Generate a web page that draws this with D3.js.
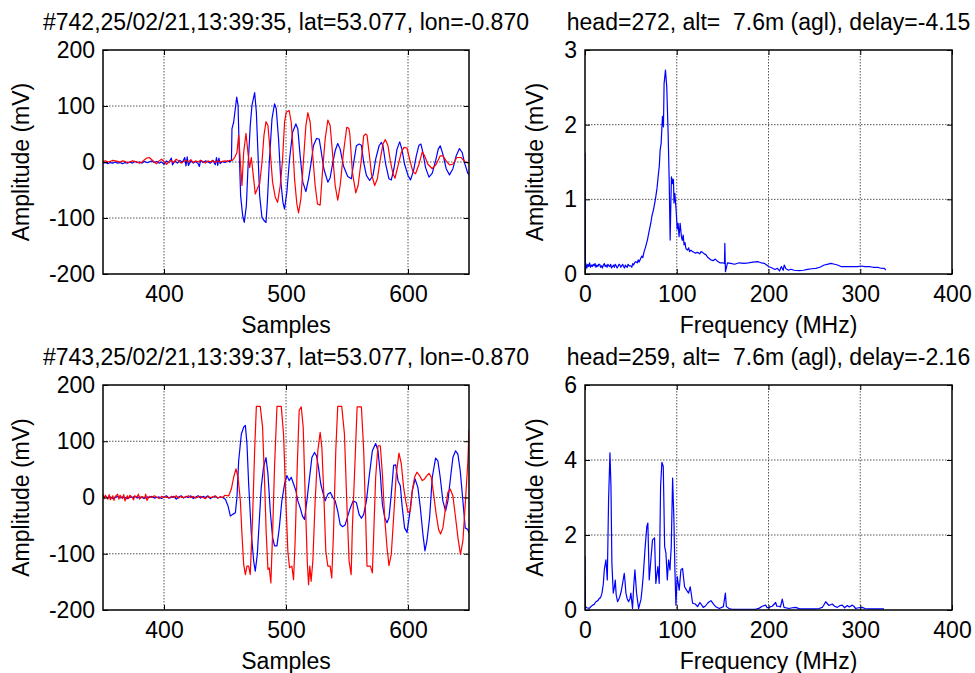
<!DOCTYPE html>
<html>
<head>
<meta charset="utf-8">
<script src="https://cdn.jsdelivr.net/npm/d3@7"></script>
<style>
  body { margin: 0; background: #ffffff; }
  svg text { font-family: "Liberation Sans", Arial, sans-serif; fill: #000; white-space: pre; }
</style>
</head>
<body>
<div id="chart"></div>
<script>
// ---- data ----
// pulse #742 : [sample, mV]
var wave742Blue = [[350,-2],[352,-1],[354,-3],[356,-1],[358,-2],[360,0],[362,-2],[364,-1],[366,-3],[368,-1],[370,-2],[372,0],[374,-2],[376,1],[378,-1],[380,0],[382,-2],[384,1],[386,-1],[388,0],[390,2],[392,-1],[394,1],[396,-2],[398,0],[400,-4],[402,2],[404,-1],[406,7],[407,-5],[409,2],[411,-2],[413,3],[415,-1],[417,8],[418,-7],[419,9],[420,-6],[422,2],[424,-2],[426,1],[428,-3],[429,-8],[430,3],[432,-1],[434,2],[436,0],[438,-2],[440,3],[442,-5],[443,8],[444,-6],[445,7],[446,-3],[448,1],[450,-1],[452,2],[454,0],[455.3,3],[455.7,59],[457.1,71],[459.6,116],[460.7,101],[461.7,17],[462.8,-60],[464.5,-96],[465.8,-108],[467.5,-78],[468.8,-12],[470.7,65],[472.1,101],[474.3,124],[475.7,89],[477,17],[478.4,-60],[480.3,-99],[482.2,-105],[483.6,-108],[484.7,-72],[486.3,-1],[488.5,77],[490.6,104],[492,95],[493.9,41],[495.8,-36],[497.5,-72],[498.8,-84],[500.7,-54],[502.9,5],[505.4,53],[508.1,68],[509.7,59],[511.6,11],[513.8,-36],[516.3,-53],[518.5,-30],[520.6,-1],[522.5,29],[525,42],[527.2,41],[528.8,20],[531,-12],[534.3,-36],[536.2,-28],[538.1,-4],[540.3,20],[542.4,33],[544.4,23],[547.1,-7],[550.6,-26],[553.6,-30],[555.5,-1],[557.7,29],[559.9,32],[561.8,30],[563.7,-1],[565.9,-24],[568.6,-33],[571.3,-24],[573.5,5],[576.3,29],[578.2,35],[579.5,29],[581.7,-4],[584.4,-30],[586.3,-32],[588.5,-12],[591,23],[593.2,36],[595,23],[597.2,-4],[600,-24],[602.1,-32],[604.6,-15],[606.8,11],[609,30],[610.6,32],[612.2,17],[614.4,-10],[617.2,-27],[619.9,-20],[622.6,2],[624.8,23],[626.4,29],[628.6,14],[631.3,-12],[634,-23],[636.8,-12],[639.5,11],[642.2,24],[644.4,17],[646.3,-1],[649,-20],[650,-22]];
var wave742Red = [[350,1],[352,2],[354,0],[356,1],[358,3],[360,2],[362,1],[364,0],[366,2],[368,1],[370,-1],[372,0],[374,2],[376,1],[378,0],[380,-2],[382,0],[384,4],[386,7],[388,8],[390,4],[392,0],[394,-3],[396,2],[398,5],[400,1],[402,-4],[404,0],[406,3],[408,-1],[410,5],[412,2],[414,-2],[416,1],[418,3],[420,0],[422,4],[424,-1],[426,2],[428,0],[430,3],[432,1],[434,-2],[436,2],[438,0],[440,3],[442,-1],[444,2],[446,0],[448,1],[450,2],[452,1],[454,3],[456,3],[457.9,8],[459.8,17],[461.2,48],[462.6,-1],[463.9,-42],[465.3,17],[467.2,51],[468.8,17],[470.2,-10],[471.6,8],[472.9,-18],[474.8,-57],[477,-45],[478.4,-39],[480.3,-1],[481.9,47],[483.6,72],[485.2,65],[487.1,17],[489,-36],[491.2,-63],[493.1,-72],[495.3,-42],[497.2,5],[498.8,71],[500.2,89],[502.6,92],[504.3,71],[505.6,29],[507,-30],[508.9,-75],[510.3,-91],[512.2,-66],[514.4,5],[516.3,65],[517.9,88],[519.8,71],[521.7,17],[523.9,-42],[525.8,-75],[528,-77],[529.9,-18],[532.1,41],[534.3,75],[536.2,65],[538.1,17],[540.3,-42],[542.4,-68],[544.4,-42],[547.1,17],[549.8,62],[551.5,60],[552.3,50],[554.4,-18],[557.2,-55],[559.1,-42],[561.8,5],[563.7,47],[565.3,50],[566.4,48],[568.1,17],[570,-21],[572.7,-42],[574.9,-30],[577.3,5],[579.5,32],[581.4,40],[583.6,29],[585.5,2],[587.7,-21],[589.3,-29],[591.8,-7],[594.5,17],[596.7,26],[599.2,25],[601.3,5],[604.1,-18],[606.2,-21],[609,-4],[611.7,18],[613.6,11],[616.3,-4],[619.9,-12],[623.1,-4],[626.4,11],[628.6,11],[631.3,2],[634,-5],[636.8,-4],[640,8],[643.6,8],[646.3,1],[649.3,-2],[650,-1]];

// pulse #743 : [sample, mV]
var wave743Blue = [[350,0],[352,2],[354,-1],[356,1],[358,-2],[360,0],[362,2],[364,-1],[366,1],[368,0],[370,-2],[372,1],[374,0],[376,2],[378,-1],[380,1],[382,0],[384,-2],[386,1],[388,0],[390,2],[392,-1],[394,0],[396,1],[398,-2],[400,1],[402,3],[404,-1],[406,0],[408,2],[410,-3],[412,1],[414,3],[416,-1],[418,2],[420,0],[422,3],[424,-2],[426,1],[428,3],[430,-1],[432,2],[434,0],[436,3],[438,-2],[440,1],[442,2],[444,-1],[446,1],[448,0],[450.3,-3],[452.5,-15],[454.4,-33],[456.3,-30],[458.5,-27],[459.8,0],[461.2,65],[463.4,113],[465.3,125],[466.7,128],[468,95],[469.4,24],[471.6,-65],[473.5,-113],[474.8,-131],[476.5,-101],[478.1,-42],[479.7,18],[481.6,54],[483.6,71],[485.2,42],[487.1,-24],[489,-71],[490.6,-86],[492.6,-86],[494.5,-54],[496.6,-6],[498.8,24],[500.7,39],[502.6,30],[504.3,36],[506.2,24],[508.1,12],[509.7,-6],[511.6,-18],[513.5,-33],[515.2,-39],[517.1,-6],[519,30],[521.2,71],[523.4,80],[525,74],[526.6,54],[528.5,24],[530.2,9],[532.1,-6],[534.3,6],[536.4,9],[538.4,0],[540.3,-6],[542.4,-24],[544.4,-48],[546.3,-52],[548.4,-49],[550.6,-33],[552.3,-21],[555,-6],[557.7,-9],[559.9,-30],[561.8,-37],[563.7,-30],[565.9,-6],[568.1,36],[570.8,83],[573.5,96],[575.4,83],[577.3,42],[579,-12],[580.9,-36],[582.8,-45],[584.4,-36],[586.3,6],[588.2,57],[589.9,58],[591.8,30],[593.7,21],[595.3,-18],[597.2,-54],[599.2,-62],[601.3,-30],[603.5,12],[605.8,33],[608.1,18],[610.1,-18],[612.2,-65],[613.9,-95],[615.5,-77],[617.7,-36],[619.9,36],[622.6,70],[624.5,65],[626.4,36],[628.6,-6],[630.8,-24],[632.7,-6],[634.9,36],[636.8,71],[639,83],[640.9,77],[642.8,48],[645,-6],[646.9,-54],[649,-57],[650,-63]];
var wave743Red = [[350,6],[351,-2],[352,4],[354,-3],[355,5],[356,-4],[358,3],[359,-5],[360,2],[362,6],[363,-3],[364,4],[366,-2],[367,5],[368,-6],[370,3],[371,-2],[372,4],[374,0],[375,-4],[376,3],[378,1],[379,6],[380,-3],[382,2],[384,-1],[385,6],[386,-5],[388,2],[390,0],[392,3],[394,1],[396,-2],[398,2],[400,0],[402,1],[404,-1],[406,2],[408,0],[410,3],[412,-1],[414,2],[416,0],[418,1],[420,3],[422,0],[424,2],[426,-1],[428,1],[430,2],[432,0],[434,-2],[436,2],[438,0],[440,1],[442,3],[444,-1],[446,1],[448,0],[450,4],[453,3],[455.2,15],[457.1,36],[459,51],[460.7,36],[462.6,-6],[463.9,-65],[465.3,-119],[466.7,-137],[468,-122],[469.4,-122],[470.7,-137],[472.6,-36],[474.3,83],[475.7,162],[478.9,162],[480.8,125],[482.5,24],[483.8,-65],[485.2,-128],[486.3,-125],[487.6,-152],[489,-65],[490.6,54],[492.6,162],[496.1,162],[498,113],[499.9,-6],[501.5,-95],[502.9,-125],[504.8,-122],[506.2,-146],[507.5,-77],[509.2,54],[510.8,155],[512.5,161],[514.1,125],[515.7,6],[517.4,-113],[518.5,-155],[519.5,-122],[520.6,-149],[522,-113],[523.9,-6],[526.1,83],[528,116],[529.4,89],[531,6],[532.6,-95],[534.3,-122],[536.2,-122],[537.5,-143],[538.9,-65],[540.8,83],[542.4,162],[545.7,162],[547.9,113],[549.8,-6],[551.7,-113],[553.4,-137],[554.4,-54],[556.4,54],[558.3,161],[561.8,161],[563.7,83],[565.3,-36],[566.4,-122],[569.2,-122],[570.8,-134],[571.9,-65],[573.5,36],[575.4,92],[577.3,92],[579,42],[580.9,-36],[582.8,-89],[584.4,-121],[586.3,-101],[588.2,-36],[590.4,42],[592.6,79],[594.5,60],[596.4,18],[598.1,-6],[600,-27],[601.9,-24],[603.5,12],[605.4,36],[607.3,45],[609.5,39],[611.7,30],[613.6,33],[615.5,39],[617.2,43],[619.1,36],[621,6],[623.1,-30],[625.1,-57],[626.7,-65],[628.6,-54],[630.8,-18],[632.7,9],[634.6,15],[636.8,3],[639,-36],[640.9,-71],[643,-101],[645,-77],[647.1,-6],[649.1,65],[650,120]];

// spectra : [MHz, mV]
var spec742 = [[0,1.62],[0.5,0.05],[1,0.14],[2,0.08],[3,0.13],[4,0.1],[5,0.15],[6,0.09],[7,0.12],[8,0.1],[9,0.13],[10,0.11],[11,0.14],[12,0.09],[13,0.12],[14,0.1],[15,0.13],[16,0.13],[17,0.09],[18,0.11],[19,0.08],[20,0.12],[21,0.14],[22,0.1],[23,0.12],[24,0.09],[25,0.13],[26,0.11],[27,0.1],[28,0.13],[29,0.08],[30,0.1],[31,0.12],[32,0.09],[33,0.13],[34,0.11],[35,0.08],[36,0.1],[37,0.13],[38,0.12],[39,0.09],[40,0.11],[41,0.13],[42,0.1],[43,0.08],[44,0.12],[45,0.1],[46,0.09],[47,0.13],[48,0.11],[49.9,0.11],[51,0.09],[52,0.14],[53,0.12],[54,0.15],[55.3,0.165],[57,0.15],[58,0.19],[59,0.16],[60.8,0.21],[62,0.24],[63,0.22],[64.4,0.3],[66,0.36],[68,0.455],[70,0.58],[71.7,0.68],[73,0.78],[74.6,0.86],[76,0.95],[77.1,1.03],[78.5,1.15],[79.7,1.3],[81,1.45],[81.9,1.66],[83,1.75],[83.7,1.93],[84.4,2.11],[85.5,1.97],[86.2,2.55],[87.7,2.73],[89.1,2.51],[90.6,1.88],[91.7,1.3],[92.8,0.455],[93.5,0.9],[94.2,1.3],[95.3,1.21],[96,1.27],[96.4,1.26],[97,0.95],[97.9,1.08],[99.3,0.86],[100.5,0.6],[101.5,0.68],[102.5,0.5],[103.7,0.68],[105.1,0.5],[106,0.45],[107,0.52],[108,0.39],[109,0.42],[110,0.34],[111.7,0.32],[113,0.35],[114,0.3],[115.5,0.32],[117.1,0.3],[120,0.28],[122.6,0.29],[125,0.27],[126.5,0.3],[128,0.29],[130,0.27],[131.7,0.26],[134,0.22],[137.1,0.19],[140,0.18],[142,0.2],[144.4,0.17],[147,0.15],[149.9,0.15],[152,0.14],[152.4,0.41],[153.1,0.03],[155.3,0.15],[158.9,0.143],[163,0.13],[168,0.15],[173.4,0.143],[178,0.15],[183,0.16],[188,0.165],[192,0.15],[195.3,0.143],[198,0.12],[200.7,0.098],[204,0.08],[207,0.06],[209.8,0.076],[212,0.04],[214,0.1],[216,0.05],[217.1,0.12],[219,0.07],[222,0.05],[224.4,0.063],[228,0.05],[233.5,0.045],[238,0.05],[242.6,0.063],[247,0.07],[251.6,0.076],[256,0.09],[260.7,0.12],[264,0.13],[268,0.143],[272,0.13],[275.3,0.12],[279,0.1],[282.5,0.098],[288,0.1],[293.4,0.098],[297,0.1],[300.7,0.107],[305,0.1],[309.8,0.098],[314,0.09],[318.9,0.089],[322,0.08],[326.1,0.076],[327.9,0.054]];
var spec743 = [[0,1.43],[0.5,0.09],[2,0.06],[4.7,0.045],[6,0.08],[8.3,0.13],[10,0.15],[11.9,0.22],[14,0.25],[15.6,0.31],[17,0.33],[18.5,0.45],[20,0.7],[21,1.07],[22.8,1.34],[24.3,0.8],[25.7,2.94],[26.5,3.6],[27.2,4.19],[28.3,3.3],[29.3,1.25],[30.8,0.45],[32,0.6],[33,0.8],[34,0.4],[35.5,0.22],[37,0.3],[38,0.36],[39.5,0.5],[41,0.71],[42.8,0.98],[43.5,0.8],[44.6,0.45],[46,0.3],[47.5,0.22],[49,0.3],[50,0.45],[51.8,0.04],[53,0.6],[54.4,1.07],[56.2,0.45],[58.4,0.04],[60.9,0.27],[62,0.5],[63.4,0.89],[65.6,1.69],[67.4,2.23],[68.5,2.32],[70,0.8],[71.8,1.34],[73.6,1.87],[75.8,1.92],[77.2,0.71],[79.4,1.16],[80.9,0.71],[82.4,3.3],[83.8,3.94],[85.3,3.83],[86.8,1.69],[88.2,1.52],[89.7,0.8],[91.1,1.34],[92.6,1.07],[94,1.69],[95.5,3.52],[96.9,2.41],[98,1.07],[99.1,0.13],[100.5,0.89],[102.7,0.53],[104.5,1.07],[106.3,1.11],[108.5,0.62],[110.7,0.53],[112.9,0.45],[114.7,0.62],[117.3,0.18],[120.2,0.16],[122.7,0.09],[125.3,0.2],[128.9,0.07],[131,0.1],[133.6,0.18],[135.5,0.22],[137.3,0.25],[140.9,0.13],[143,0.08],[146.4,0.04],[150.8,0.09],[153,0.45],[154.1,0.09],[157,0.04],[160,0.02],[168,0.02],[186,0.02],[190,0.05],[193.2,0.1],[196.9,0.13],[198.5,0.06],[200.5,0.07],[204.1,0.1],[207.8,0.2],[209,0.1],[211.4,0.1],[213,0.08],[215,0.29],[216.9,0.07],[222.3,0.04],[226,0.06],[229.6,0.07],[234,0.03],[240.5,0.03],[251.4,0.03],[255,0.04],[258.6,0.07],[260,0.12],[262.3,0.22],[265.9,0.12],[269.5,0.16],[272,0.1],[275,0.07],[278,0.12],[280.4,0.13],[283,0.06],[285.9,0.12],[288,0.08],[291.3,0.13],[293,0.1],[295,0.04],[298,0.06],[302.2,0.07],[305,0.04],[309.5,0.03],[325.8,0.03]];

// axis ticks
var sampleTicks = [400, 500, 600];
var waveTicks = [-200, -100, 0, 100, 200];
var freqTicks = [0, 100, 200, 300, 400];
var spec742Ticks = [0, 1, 2, 3];
var spec743Ticks = [0, 2, 4, 6];

// titles
var titles = [
  "#742,25/02/21,13:39:35, lat=53.077, lon=-0.870",
  "head=272, alt=  7.6m (agl), delay=-4.15",
  "#743,25/02/21,13:39:37, lat=53.077, lon=-0.870",
  "head=259, alt=  7.6m (agl), delay=-2.16"
];

// ---- layout ----
var width = 975;
var height = 673;
var fontSize = 23;
var blue = "#0000ff";
var red = "#ff0000";

var svg = d3.select("#chart")
  .append("svg")
  .attr("width", width)
  .attr("height", height);

// ylabOff: distance from the axis to the y label baseline (MATLAB puts it just past the tick labels)
var panels = [
  { id: "p1", x: [103, 469], y: [50, 274], xDom: [350, 650], yDom: [-200, 200], xt: sampleTicks, yt: waveTicks,
    xlab: "Samples", title: titles[0], ylabOff: 74, series: [[wave742Blue, blue], [wave742Red, red]] },
  { id: "p2", x: [585, 952], y: [50, 274], xDom: [0, 400], yDom: [0, 3], xt: freqTicks, yt: spec742Ticks,
    xlab: "Frequency (MHz)", title: titles[1], ylabOff: 42, series: [[spec742, blue]] },
  { id: "p3", x: [103, 469], y: [385, 610], xDom: [350, 650], yDom: [-200, 200], xt: sampleTicks, yt: waveTicks,
    xlab: "Samples", title: titles[2], ylabOff: 74, series: [[wave743Blue, blue], [wave743Red, red]] },
  { id: "p4", x: [585, 952], y: [385, 610], xDom: [0, 400], yDom: [0, 6], xt: freqTicks, yt: spec743Ticks,
    xlab: "Frequency (MHz)", title: titles[3], ylabOff: 42, series: [[spec743, blue]] }
];

// plain labels with an ascii minus, as MATLAB prints them
var plain = function (d) { return String(d); };

panels.forEach(function (p) {
  var x = d3.scaleLinear().domain(p.xDom).range(p.x);
  var y = d3.scaleLinear().domain(p.yDom).range([p.y[1], p.y[0]]);
  var g = svg.append("g");

  // dotted grid
  g.selectAll(".vgrid")
    .data(p.xt.filter(function (t) { return x(t) > p.x[0] + 1 && x(t) < p.x[1] - 1; }))
    .enter().append("line")
    .attr("x1", d => x(d)).attr("x2", d => x(d))
    .attr("y1", p.y[0]).attr("y2", p.y[1])
    .attr("stroke", "#555").attr("stroke-dasharray", "1.5,1.5");
  g.selectAll(".hgrid")
    .data(p.yt.filter(function (t) { return y(t) > p.y[0] + 1 && y(t) < p.y[1] - 1; }))
    .enter().append("line")
    .attr("y1", d => y(d)).attr("y2", d => y(d))
    .attr("x1", p.x[0]).attr("x2", p.x[1])
    .attr("stroke", "#555").attr("stroke-dasharray", "1.5,1.5");

  // traces, clipped to the axes box
  g.append("clipPath").attr("id", "clip-" + p.id)
    .append("rect")
    .attr("x", p.x[0]).attr("y", p.y[0])
    .attr("width", p.x[1] - p.x[0]).attr("height", p.y[1] - p.y[0]);

  var line = d3.line().x(d => x(d[0])).y(d => y(d[1]));
  p.series.forEach(function (s) {
    g.append("path")
      .datum(s[0])
      .attr("clip-path", "url(#clip-" + p.id + ")")
      .attr("fill", "none")
      .attr("stroke", s[1])
      .attr("stroke-width", 1.2)
      .attr("stroke-linejoin", "round")
      .attr("d", line);
  });

  // axes with inward ticks (MATLAB box style)
  g.append("g").attr("transform", "translate(0," + p.y[1] + ")")
    .call(d3.axisBottom(x).tickValues(p.xt).tickFormat(plain).tickSize(-5).tickSizeOuter(0).tickPadding(12));
  g.append("g").attr("transform", "translate(" + p.x[0] + ",0)")
    .call(d3.axisLeft(y).tickValues(p.yt).tickFormat(plain).tickSize(-5).tickSizeOuter(0).tickPadding(8));
  g.append("g").attr("transform", "translate(0," + p.y[0] + ")")
    .call(d3.axisTop(x).tickValues(p.xt).tickSize(-5).tickSizeOuter(0).tickFormat(""));
  g.append("g").attr("transform", "translate(" + p.x[1] + ",0)")
    .call(d3.axisRight(y).tickValues(p.yt).tickSize(-5).tickSizeOuter(0).tickFormat(""));

  g.selectAll(".domain").remove();
  g.selectAll(".tick line").attr("stroke", "#000");
  g.selectAll(".tick text")
    .attr("font-size", fontSize)
    .attr("font-family", null)
    .attr("fill", "#000");

  // box
  g.append("rect")
    .attr("x", p.x[0]).attr("y", p.y[0])
    .attr("width", p.x[1] - p.x[0]).attr("height", p.y[1] - p.y[0])
    .attr("fill", "none")
    .attr("stroke", "#000")
    .attr("stroke-width", 1.5);

  // labels
  var cx = (p.x[0] + p.x[1]) / 2;
  var cy = (p.y[0] + p.y[1]) / 2;
  g.append("text")
    .attr("x", cx).attr("y", p.y[1] + 59)
    .attr("text-anchor", "middle")
    .attr("font-size", fontSize)
    .text(p.xlab);
  g.append("text")
    .attr("transform", "translate(" + (p.x[0] - p.ylabOff) + "," + cy + ") rotate(-90)")
    .attr("text-anchor", "middle")
    .attr("font-size", fontSize)
    .text("Amplitude (mV)");
  g.append("text")
    .attr("x", cx).attr("y", p.y[0] - 20)
    .attr("text-anchor", "middle")
    .attr("font-size", fontSize)
    .text(p.title);
});
</script>
</body>
</html>
